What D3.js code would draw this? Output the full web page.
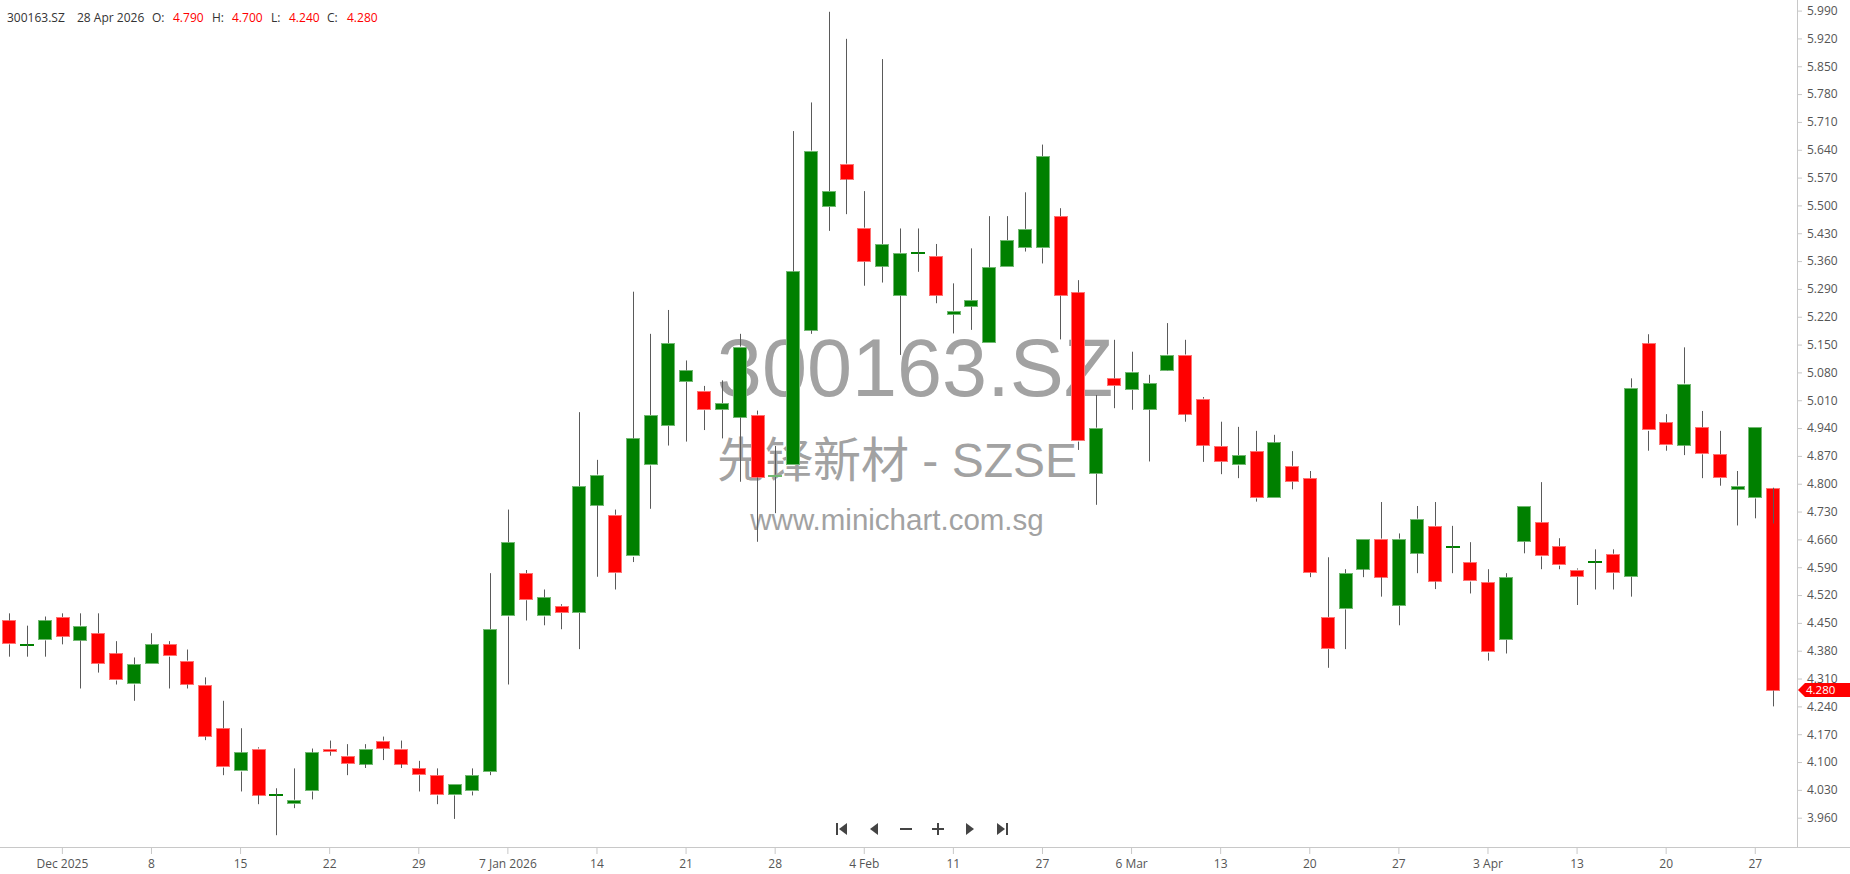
<!DOCTYPE html>
<html><head><meta charset="utf-8">
<script src="https://cdn.jsdelivr.net/npm/d3@7"></script>
<style>
body{margin:0;background:#fff;overflow:hidden}
text{font-family:"Segoe UI","Open Sans",sans-serif}
</style>
</head><body><svg id="c" width="1850" height="874"></svg>
<script>
// ---------------- data ----------------
const dates = [
"2025-11-26","2025-11-27","2025-11-28",
"2025-12-01","2025-12-02","2025-12-03","2025-12-04","2025-12-05",
"2025-12-08","2025-12-09","2025-12-10","2025-12-11","2025-12-12",
"2025-12-15","2025-12-16","2025-12-17","2025-12-18","2025-12-19",
"2025-12-22","2025-12-23","2025-12-24","2025-12-25","2025-12-26",
"2025-12-29","2025-12-30","2025-12-31",
"2026-01-05","2026-01-06","2026-01-07","2026-01-08","2026-01-09",
"2026-01-12","2026-01-13","2026-01-14","2026-01-15","2026-01-16",
"2026-01-19","2026-01-20","2026-01-21","2026-01-22","2026-01-23",
"2026-01-26","2026-01-27","2026-01-28","2026-01-29","2026-01-30",
"2026-02-02","2026-02-03","2026-02-04","2026-02-05","2026-02-06",
"2026-02-09","2026-02-10","2026-02-11","2026-02-12","2026-02-13",
"2026-02-25","2026-02-26","2026-02-27",
"2026-03-02","2026-03-03","2026-03-04","2026-03-05","2026-03-06",
"2026-03-09","2026-03-10","2026-03-11","2026-03-12","2026-03-13",
"2026-03-16","2026-03-17","2026-03-18","2026-03-19","2026-03-20",
"2026-03-23","2026-03-24","2026-03-25","2026-03-26","2026-03-27",
"2026-03-30","2026-03-31","2026-04-01","2026-04-02","2026-04-03",
"2026-04-07","2026-04-08","2026-04-09","2026-04-10",
"2026-04-13","2026-04-14","2026-04-15","2026-04-16","2026-04-17",
"2026-04-20","2026-04-21","2026-04-22","2026-04-23","2026-04-24",
"2026-04-27","2026-04-28"];

const opens = [
4.456,4.395,4.406,4.465,4.406,4.424,4.373,4.295,4.346,4.396,
4.355,4.295,4.185,4.076,4.134,4.016,3.994,4.026,4.134,4.116,
4.095,4.154,4.134,4.084,4.067,4.016,4.026,4.075,4.466,4.575,
4.466,4.493,4.475,4.746,4.722,4.616,4.846,4.945,5.056,5.034,
4.986,4.967,4.974,4.817,4.846,5.186,5.496,5.605,5.444,5.346,
5.273,5.381,5.373,5.225,5.245,5.154,5.346,5.393,5.392,5.473,
5.281,4.825,5.065,5.036,4.986,5.086,5.125,5.014,4.895,4.846,
4.882,4.763,4.845,4.814,4.465,4.484,4.585,4.662,4.493,4.625,
4.694,4.642,4.602,4.552,4.407,4.654,4.703,4.643,4.584,4.602,
4.624,4.566,5.153,4.954,4.896,4.942,4.874,4.786,4.763,4.790];

const highs = [
4.474,4.443,4.466,4.474,4.474,4.474,4.404,4.363,4.424,4.404,
4.383,4.313,4.254,4.185,4.137,4.034,4.084,4.134,4.154,4.145,
4.145,4.164,4.154,4.103,4.084,4.044,4.084,4.575,4.735,4.583,
4.534,4.497,4.980,4.860,4.735,5.283,5.177,5.237,5.110,5.046,
5.060,5.177,4.984,4.895,5.687,5.759,5.987,5.919,5.536,5.868,
5.442,5.442,5.403,5.304,5.392,5.473,5.473,5.533,5.653,5.493,
5.312,5.023,5.162,5.132,5.074,5.204,5.162,5.018,4.956,4.943,
4.933,4.923,4.882,4.832,4.615,4.585,4.662,4.754,4.675,4.744,
4.754,4.694,4.653,4.585,4.575,4.744,4.804,4.663,4.587,4.635,
4.635,5.065,5.176,4.975,5.143,4.983,4.933,4.832,4.942,4.700];

const lows = [
4.365,4.365,4.365,4.396,4.285,4.325,4.295,4.254,4.346,4.285,
4.285,4.155,4.067,4.026,3.994,3.916,3.984,4.006,4.116,4.067,
4.085,4.105,4.085,4.026,3.994,3.957,4.016,4.067,4.295,4.456,
4.444,4.434,4.384,4.566,4.534,4.603,4.737,4.896,4.906,4.935,
4.914,4.805,4.654,4.726,4.846,5.177,5.436,5.478,5.298,5.306,
5.124,5.333,5.254,5.178,5.187,5.154,5.346,5.384,5.354,5.163,
4.885,4.747,4.990,4.986,4.856,5.085,4.956,4.855,4.824,4.814,
4.755,4.763,4.786,4.565,4.337,4.384,4.565,4.516,4.444,4.575,
4.535,4.575,4.524,4.355,4.373,4.625,4.585,4.585,4.495,4.534,
4.534,4.516,4.883,4.883,4.872,4.814,4.795,4.695,4.713,4.240];

const closes = [
4.396,4.395,4.456,4.415,4.443,4.347,4.305,4.346,4.396,4.365,
4.295,4.164,4.086,4.124,4.017,4.016,4.005,4.124,4.126,4.095,
4.134,4.134,4.095,4.067,4.016,4.044,4.067,4.434,4.653,4.507,
4.514,4.475,4.794,4.823,4.575,4.914,4.973,5.154,5.085,4.985,
5.003,5.145,4.816,4.823,5.334,5.638,5.536,5.566,5.358,5.403,
5.381,5.381,5.273,5.235,5.262,5.344,5.413,5.441,5.624,5.273,
4.906,4.941,5.046,5.082,5.053,5.125,4.975,4.896,4.855,4.872,
4.763,4.904,4.805,4.576,4.384,4.575,4.662,4.565,4.662,4.712,
4.554,4.642,4.554,4.375,4.565,4.744,4.617,4.594,4.566,4.602,
4.575,5.042,4.933,4.896,5.052,4.874,4.814,4.795,4.942,4.280];

const yTickValues = [3.96,4.03,4.10,4.17,4.24,4.31,4.38,4.45,4.52,4.59,4.66,4.73,4.80,4.87,4.94,
                     5.01,5.08,5.15,5.22,5.29,5.36,5.43,5.50,5.57,5.64,5.71,5.78,5.85,5.92,5.99];
const xTickDates = ["2025-12-01","2025-12-08","2025-12-15","2025-12-22","2025-12-29","2026-01-07",
  "2026-01-14","2026-01-21","2026-01-28","2026-02-04","2026-02-11","2026-02-27","2026-03-06",
  "2026-03-13","2026-03-20","2026-03-27","2026-04-03","2026-04-13","2026-04-20","2026-04-27"];
const xTickLabels = ["Dec 2025","8","15","22","29","7 Jan 2026","14","21","28","4 Feb","11","27",
  "6 Mar","13","20","27","3 Apr","13","20","27"];

const symbol = "300163.SZ";
const companyName = "先锋新材 - SZSE";
const site = "www.minichart.com.sg";
const lastDateLabel = "28 Apr 2026";
const headerFields = [["O:","4.790"],["H:","4.700"],["L:","4.240"],["C:","4.280"]];
const lastPrice = 4.28;

// ---------------- chart ----------------
const W = 1850, H = 874;
const plotRight = 1797, axisY = 847;
const svg = d3.select("#c");
const UP = "#008000", DOWN = "#ff0000";

const x = d3.scaleBand().domain(dates).range([0, 1782]).paddingInner(0.24).paddingOuter(0.12);
const y = d3.scaleLinear().domain([3.96, 5.99]).range([817.7, 10.6]);
const bw = x.bandwidth();
const cx = d => Math.round(x(d) + bw / 2) + 0.5;

const data = dates.map((d, i) => ({d, o: opens[i], h: highs[i], l: lows[i], c: closes[i]}));

// watermark
const wm = svg.append("g").attr("fill", "#a2a2a2").attr("text-anchor", "middle");
wm.append("text").attr("x", 915).attr("y", 396).attr("font-size", 81).text(symbol)
  .style("font-family", "'Liberation Sans', Arial, sans-serif");
wm.append("text").attr("x", 897).attr("y", 477).attr("font-size", 48).text(companyName)
  .style("font-family", "'Liberation Sans', 'Noto Sans CJK SC', sans-serif");
wm.append("text").attr("x", 897).attr("y", 530).attr("font-size", 29.5).text(site)
  .style("font-family", "'Liberation Sans', Arial, sans-serif");

// axes lines
svg.append("line").attr("x1", 0).attr("x2", W).attr("y1", axisY + 0.5).attr("y2", axisY + 0.5)
  .attr("stroke", "#c8c8c8");
svg.append("line").attr("x1", plotRight + 0.5).attr("x2", plotRight + 0.5).attr("y1", 0).attr("y2", axisY)
  .attr("stroke", "#c8c8c8");

// y axis
const yAxis = d3.axisRight(y).tickValues(yTickValues).tickFormat(d3.format(".3f")).tickSize(4).tickPadding(5);
const ya = svg.append("g").attr("transform", `translate(${plotRight + 1},0)`).call(yAxis);
ya.select(".domain").remove();
ya.selectAll(".tick line").attr("stroke", "#c8c8c8");
ya.selectAll(".tick text").attr("fill", "#555").attr("font-size", 12)
  .style("font-family", "'Segoe UI','Open Sans',sans-serif");

// x axis
const xAxis = d3.axisBottom(x).tickValues(xTickDates)
  .tickFormat(d => xTickLabels[xTickDates.indexOf(d)]).tickSize(6).tickPadding(5);
const xa = svg.append("g").attr("transform", `translate(0,${axisY + 1})`).call(xAxis);
xa.select(".domain").remove();
xa.selectAll(".tick line").attr("stroke", "#c8c8c8");
xa.selectAll(".tick text").attr("fill", "#555").attr("font-size", 12)
  .style("font-family", "'Segoe UI','Open Sans',sans-serif");

// candles
const cg = svg.append("g");
data.forEach(k => {
  const up = k.c >= k.o;
  const col = up ? UP : DOWN;
  const top = y(Math.max(k.o, k.c)), bot = y(Math.min(k.o, k.c));
  const xc = cx(k.d);
  const bx = Math.round(x(k.d));
  const bwR = Math.round(bw);
  if (Math.abs(k.o - k.c) < 1e-9) {
    cg.append("rect").attr("x", bx).attr("width", bwR).attr("y", Math.round(top) - 1).attr("height", 2)
      .attr("fill", col);
  } else {
    const h = Math.max(2, bot - top);
    cg.append("rect").attr("x", bx + 0.5).attr("width", bwR - 1).attr("y", Math.round(top) + 0.5)
      .attr("height", Math.max(1, Math.round(h) - 1))
      .attr("fill", col).attr("stroke", d3.interpolateRgb(col, "#fff")(0.45)).attr("stroke-width", 1);
  }
  // wicks (upper and lower segments)
  cg.append("line").attr("x1", xc).attr("x2", xc).attr("y1", top).attr("y2", y(k.h))
    .attr("stroke", "#5a5a5a").attr("stroke-width", 1);
  cg.append("line").attr("x1", xc).attr("x2", xc).attr("y1", bot).attr("y2", y(k.l))
    .attr("stroke", "#5a5a5a").attr("stroke-width", 1);
});

// last price tag
const ty = Math.round(y(lastPrice));
svg.append("path")
  .attr("d", `M${plotRight + 1},${ty} L${plotRight + 8},${ty - 7} L${W},${ty - 7} L${W},${ty + 7} L${plotRight + 8},${ty + 7} Z`)
  .attr("fill", DOWN);
svg.append("text").attr("x", plotRight + 9).attr("y", ty + 4).attr("fill", "#fff").attr("font-size", 11.5)
  .text(d3.format(".3f")(lastPrice));

// header
const hg = svg.append("g").attr("font-size", 12);
hg.append("text").attr("x", 7).attr("y", 22).attr("fill", "#333").text(symbol);
hg.append("text").attr("x", 77).attr("y", 22).attr("fill", "#333").text(lastDateLabel);
const hx = [[152, 173], [212, 232], [271, 289], [327, 347]];
headerFields.forEach((f, i) => {
  hg.append("text").attr("x", hx[i][0]).attr("y", 22).attr("fill", "#333").text(f[0]);
  hg.append("text").attr("x", hx[i][1]).attr("y", 22).attr("fill", DOWN).text(f[1]);
});

// navigation buttons
const ng = svg.append("g").attr("fill", "#444");
const ny = 829;
ng.append("rect").attr("x", 836).attr("y", ny - 6).attr("width", 2).attr("height", 12);
ng.append("path").attr("d", `M839,${ny} L847,${ny - 6} L847,${ny + 6} Z`);
ng.append("path").attr("d", `M870,${ny} L878,${ny - 6} L878,${ny + 6} Z`);
ng.append("rect").attr("x", 900).attr("y", ny - 1).attr("width", 12).attr("height", 2);
ng.append("rect").attr("x", 932).attr("y", ny - 1).attr("width", 12).attr("height", 2);
ng.append("rect").attr("x", 937).attr("y", ny - 6).attr("width", 2).attr("height", 12);
ng.append("path").attr("d", `M974,${ny} L966,${ny - 6} L966,${ny + 6} Z`);
ng.append("path").attr("d", `M1005,${ny} L997,${ny - 6} L997,${ny + 6} Z`);
ng.append("rect").attr("x", 1006).attr("y", ny - 6).attr("width", 2).attr("height", 12);
</script>
</body></html>
